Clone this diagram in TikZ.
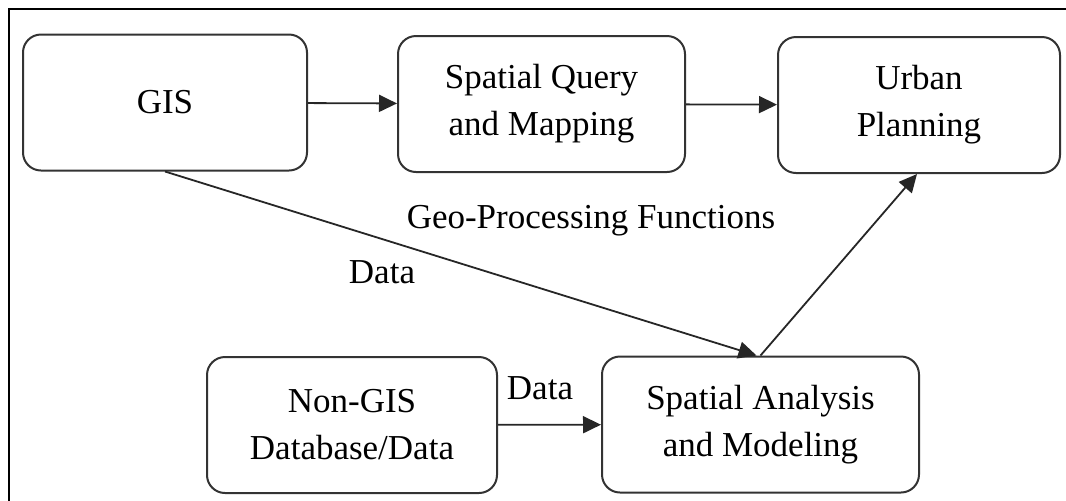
\documentclass[tikz,border=0pt]{standalone}
\usepackage{fontspec}
\setmainfont{Liberation Serif}
\usetikzlibrary{arrows.meta}

\begin{document}
\begin{tikzpicture}[x=0.5pt, y=-0.5pt,
		font=\fontsize{17.5}{23.5}\selectfont,
		box/.style={draw=black!80, line width=1pt, rounded corners=9pt, align=center,
			minimum width=#1, minimum height=68pt, inner sep=0pt},
		arr/.style={draw=black!85, line width=0.9pt, -{Triangle[length=9pt,width=8.5pt]}}]
		\useasboundingbox (0,0) rectangle (1066,500);
		\clip (0,0) rectangle (1066,500);
		%frame
		\draw[line width=1.2pt] (1075,9) -- (9,9) -- (9,510);
		%boxes
		\node[box=142pt] (gis) at (165,102.5) {GIS};
		\node[box=143.5pt] (query) at (541.5,104) {Spatial Query\\and Mapping};
		\node[box=141pt] (urban) at (919,105) {Urban\\Planning};
		\node[box=145pt] (nongis) at (352,425) {Non-GIS\\Database/Data};
		\node[box=158.5pt] (analysis) at (760.5,424.5) {Spatial Analysis\\and Modeling};
		%arrows
		\draw[arr] (gis) -- (query);
		\draw[arr] (query) -- (urban);
		\draw[arr] (gis.south) -- ([xshift=-2pt]analysis.north);
		\draw[arr] (analysis.north) -- ([xshift=-1pt]urban.south);
		\draw[arr] (nongis) -- (analysis);
		%labels
		\node (geo) at (591,221) {Geo-Processing Functions};
		\node (data top) at (382,272) {Data};
		\node (data bottom) at (540,388) {Data};
\end{tikzpicture}
\end{document}
